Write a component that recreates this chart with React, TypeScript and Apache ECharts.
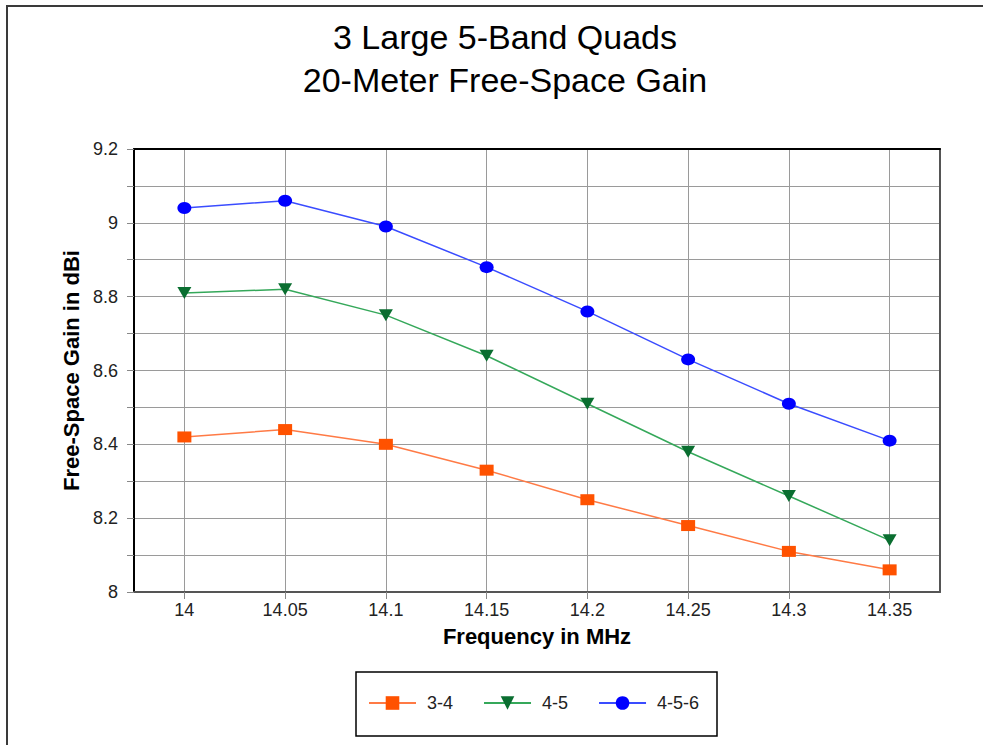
import React, { useEffect, useRef } from "react";
import * as echarts from "echarts";

const frequencies = [14, 14.05, 14.1, 14.15, 14.2, 14.25, 14.3, 14.35];
const gain34 = [8.42, 8.44, 8.4, 8.33, 8.25, 8.18, 8.11, 8.06];
const gain45 = [8.81, 8.82, 8.75, 8.64, 8.51, 8.38, 8.26, 8.14];
const gain456 = [9.04, 9.06, 8.99, 8.88, 8.76, 8.63, 8.51, 8.41];
const seriesNames = ["3-4", "4-5", "4-5-6"];
const titleLines = ["3 Large 5-Band Quads", "20-Meter Free-Space Gain"];

const FONT = "'Liberation Sans', Arial, sans-serif";

export default function App() {
  const ref = useRef<HTMLDivElement>(null);
  useEffect(() => {
    if (!ref.current) return;
    const chart = echarts.init(ref.current, null, { renderer: "svg" });
    const pair = (ys: number[]) => frequencies.map((f, i) => [f, ys[i]]);
    const step = 0.05;
    const xMin = frequencies[0] - step / 2;
    const xMax = frequencies[frequencies.length - 1] + step / 2;
    const isTick = (v: number) => Math.abs(v / step - Math.round(v / step)) < 1e-6;
    chart.setOption({
      animation: false,
      backgroundColor: "#fff",
      textStyle: { fontFamily: FONT },
      title: {
        text: titleLines.join("\n"),
        left: 500,
        textAlign: "center",
        top: 10,
        textStyle: {
          fontFamily: FONT,
          fontSize: 34,
          fontWeight: "normal",
          color: "#000",
          lineHeight: 43,
        },
      },
      grid: { left: 134, top: 149, right: 43, bottom: 153, show: false },
      xAxis: [
        {
          type: "value",
          min: xMin,
          max: xMax,
          minInterval: step,
          maxInterval: step,
          name: "Frequency in MHz",
          nameLocation: "middle",
          nameGap: 33,
          nameTextStyle: { fontFamily: FONT, fontSize: 22, fontWeight: "bold", color: "#000" },
          axisLine: { show: true, lineStyle: { color: "#555", width: 2 } },
          axisTick: { show: true, length: 7, lineStyle: { color: "#888" } },
          axisLabel: {
            fontFamily: FONT,
            fontSize: 18,
            color: "#222",
            margin: 9,
            showMinLabel: false,
            showMaxLabel: false,
            formatter: (v: number) => (isTick(v) ? String(+v.toFixed(2)) : ""),
          },
          splitLine: { show: true, lineStyle: { color: "#9a9a9a", width: 1 } },
        },
        {
          type: "value",
          position: "top",
          min: xMin,
          max: xMax,
          axisLine: { show: true, lineStyle: { color: "#000", width: 2 } },
          axisTick: { show: false },
          axisLabel: { show: false },
          splitLine: { show: false },
        },
      ],
      yAxis: [
        {
          type: "value",
          min: 8,
          max: 9.2,
          interval: 0.1,
          name: "Free-Space Gain in dBi",
          nameLocation: "middle",
          nameGap: 51,
          nameTextStyle: { fontFamily: FONT, fontSize: 22, fontWeight: "bold", color: "#000" },
          axisLine: { show: true, lineStyle: { color: "#000", width: 2 } },
          axisTick: { show: true, length: 7, lineStyle: { color: "#888" } },
          axisLabel: {
            fontFamily: FONT,
            fontSize: 18,
            color: "#222",
            margin: 16,
            formatter: (v: number) =>
              Math.round(v * 10) % 2 === 0 ? String(+v.toFixed(1)) : "",
          },
          splitLine: { show: true, lineStyle: { color: "#9a9a9a", width: 1 } },
        },
        {
          type: "value",
          position: "right",
          min: 8,
          max: 9.2,
          interval: 0.1,
          axisLine: { show: true, lineStyle: { color: "#555", width: 2 } },
          axisTick: { show: false },
          axisLabel: { show: false },
          splitLine: { show: false },
        },
      ],
      legend: {
        left: 368,
        top: 694,
        padding: 0,
        itemWidth: 47,
        itemHeight: 17,
        itemGap: 30,
        textStyle: { fontFamily: FONT, fontSize: 18, color: "#222", padding: [0, 0, 0, 6] },
        data: seriesNames,
      },
      graphic: [
        {
          type: "rect",
          shape: { x: 7, y: 6, width: 1000, height: 800 },
          style: { fill: "none", stroke: "#3a3a3a", lineWidth: 2 },
          silent: true,
        },
        {
          type: "rect",
          shape: { x: 356, y: 672, width: 361, height: 64 },
          style: { fill: "none", stroke: "#000", lineWidth: 1.5 },
          silent: true,
        },
      ],
      series: [
        {
          name: seriesNames[0],
          type: "line",
          data: pair(gain34),
          symbol: "rect",
          symbolSize: [14, 11],
          itemStyle: { color: "#FF5200" },
          lineStyle: { color: "#FF7A45", width: 1.5 },
        },
        {
          name: seriesNames[1],
          type: "line",
          data: pair(gain45),
          symbol: "triangle",
          symbolRotate: 180,
          symbolSize: [14, 12],
          itemStyle: { color: "#0A6E30" },
          lineStyle: { color: "#35A85A", width: 1.5 },
        },
        {
          name: seriesNames[2],
          type: "line",
          data: pair(gain456),
          symbol: "circle",
          symbolSize: [14, 12],
          itemStyle: { color: "#0000FF" },
          lineStyle: { color: "#3A4CFF", width: 1.5 },
        },
      ],
    });
    return () => chart.dispose();
  }, []);
  return (
    <div
      ref={ref}
      style={{ position: "fixed", left: 0, top: 0, width: 983, height: 745, background: "#fff" }}
    />
  );
}
